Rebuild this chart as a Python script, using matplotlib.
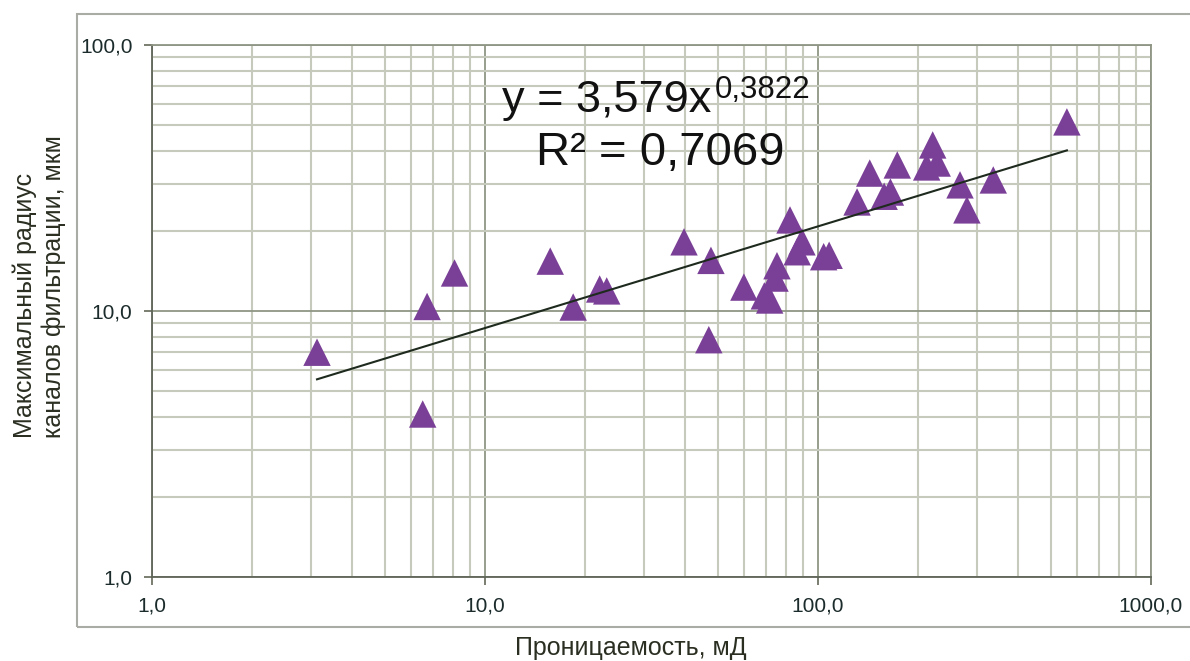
import matplotlib
matplotlib.use("Agg")
import matplotlib.pyplot as plt
import numpy as np
from matplotlib.ticker import FixedLocator, FixedFormatter, LogLocator, NullFormatter
from matplotlib.patches import Rectangle

plt.rcParams['font.family'] = ['Liberation Sans', 'DejaVu Sans']

permeability = [3.13, 6.5, 6.7, 8.1, 15.7, 18.4, 22.1, 23.2, 39.6, 47.7, 47.0,
                59.9, 69.0, 71.6, 74.3, 75.3, 82.4, 89.5, 86.6, 104, 108,
                131, 143, 158, 165, 173, 221, 212, 228, 267, 280, 336, 559]
radius = [7.0, 4.1, 10.4, 13.9, 15.4, 10.35, 12.1, 11.9, 18.2, 15.5, 7.8,
          12.3, 11.4, 11.0, 13.3, 14.8, 22.0, 18.2, 16.7, 16.0, 16.2,
          25.7, 33.0, 27.0, 28.0, 35.4, 42.1, 34.8, 36.0, 29.8, 24.0, 31.1, 51.4]
fit_a = 3.579
fit_b = 0.3822
eq_main = "y = 3,579x"
eq_exp = "0,3822"
r2_text = "R² = 0,7069"
x_ticks = [1, 10, 100, 1000]
x_ticklabels = ["1,0", "10,0", "100,0", "1000,0"]
y_ticks = [1, 10, 100]
y_ticklabels = ["1,0", "10,0", "100,0"]

W, H = 1190, 661
fig = plt.figure(figsize=(W / 100, H / 100), dpi=100)
fig.patch.set_facecolor('white')

def fx(px):
    return px / W

def fy(py):
    return 1 - py / H

# outer chart frame
fig.patches.append(Rectangle((fx(77), fy(627)), 1.2, (627 - 14) / H,
                             transform=fig.transFigure, fill=False,
                             edgecolor='#a9aca4', linewidth=1.5, zorder=0))

ax = fig.add_axes([fx(152), fy(577), (1151 - 152) / W, (577 - 45) / H])
ax.set_xscale('log')
ax.set_yscale('log')
ax.set_xlim(1, 1000)
ax.set_ylim(1, 100)

ax.xaxis.set_major_locator(FixedLocator(x_ticks))
ax.xaxis.set_major_formatter(FixedFormatter(x_ticklabels))
ax.yaxis.set_major_locator(FixedLocator(y_ticks))
ax.yaxis.set_major_formatter(FixedFormatter(y_ticklabels))
ax.xaxis.set_minor_locator(LogLocator(base=10, subs=np.arange(2, 10)))
ax.yaxis.set_minor_locator(LogLocator(base=10, subs=np.arange(2, 10)))
ax.xaxis.set_minor_formatter(NullFormatter())
ax.yaxis.set_minor_formatter(NullFormatter())

ax.grid(which='major', color='#8f9685', linewidth=1.3)
ax.grid(which='minor', color='#c6cabc', linewidth=1.5)
ax.set_axisbelow(True)
ax.tick_params(which='minor', length=0)
ax.tick_params(which='major', length=6, width=1.3, color='#6e7466',
               labelsize=15, labelcolor='#1c2b2b')
ax.tick_params(axis='y', which='major', pad=8)
ax.tick_params(axis='x', which='major', pad=8)
for s in ax.spines.values():
    s.set_color('#8f9685')
    s.set_linewidth(1.3)
ax.spines['left'].set_color('#5f6558')
ax.spines['bottom'].set_color('#5f6558')

ax.scatter(permeability, radius, marker='^', s=390, color='#7a3f96',
           edgecolors='none', zorder=3)

xl = np.logspace(np.log10(min(permeability)), np.log10(max(permeability)), 100)
ax.plot(xl, fit_a * xl ** fit_b, color='#1e2a1e', linewidth=1.5, zorder=4)

# equation text
t1 = fig.text(fx(502), fy(112), eq_main, fontsize=32.5, ha='left',
              va='baseline', color='#111111')
fig.canvas.draw()
bb = t1.get_window_extent(renderer=fig.canvas.get_renderer())
fig.text(bb.x1 / W + 3 / W, fy(98), eq_exp, fontsize=22.5, ha='left',
         va='baseline', color='#111111')
fig.text(fx(660), fy(165), r2_text, fontsize=34, ha='center',
         va='baseline', color='#111111')

fig.text(fx(39), fy(438), "Максимальный радиус\nканалов фильтрации, мкм",
         rotation=90, ha='center', va='bottom', fontsize=18,
         color='#2a2f22', multialignment='left', linespacing=1.25)
fig.text(fx(631), fy(648), "Проницаемость, мД", ha='center', va='center',
         fontsize=18, color='#2a2f22')

fig.savefig("out.png", dpi=100)
